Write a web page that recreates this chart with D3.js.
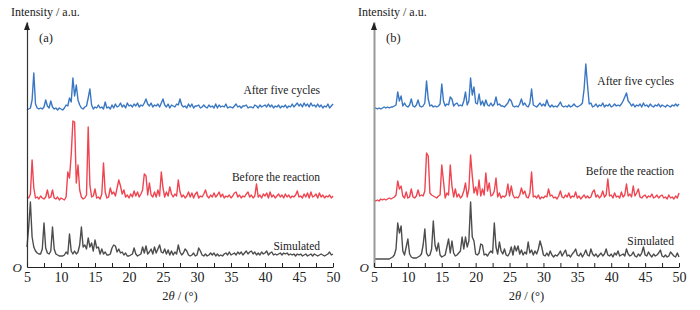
<!DOCTYPE html>
<html>
<head>
<meta charset="utf-8">
<title>XRD patterns</title>
<style>
  body { margin: 0; background: #fff; }
  svg text { font-family: "Liberation Serif", "Times New Roman", "DejaVu Serif", serif; fill: #222; }
  .x-axis path, .x-axis line { stroke: #222; }
  .x-axis text { font-size: 14px; fill: #222; }
</style>
</head>
<body>
<div class="xrd"></div>
<script src="https://d3js.org/d3.v7.min.js"></script>
<script>
var w = 700, h = 310;
var serif = "'Liberation Serif', 'Times New Roman', 'DejaVu Serif', serif";

// 2theta grid of the traces: 5 .. 50 in steps of 0.25
var thetaStart = 5, thetaStep = 0.25;
var tickVals = [5, 7.5, 10, 12.5, 15, 17.5, 20, 22.5, 25, 27.5, 30, 32.5, 35, 37.5, 40, 42.5, 45, 47.5, 50];
var tickLabels = [5, 10, 15, 20, 25, 30, 35, 40, 45, 50];
var seriesNames = ["Simulated", "Before the reaction", "After five cycles"];
var panelNames = ["(a)", "(b)"];

// stacking offsets (intensity units) of each trace
var offsetsA = [10, 67, 157];
var offsetsB = [8, 66, 158];

// panel (a)
var simA = [
	10,30,55,20, 10,6,4,3,   3,8,34,9, 4,3,6,30,
	8,3,2,1, 1,1,2,5,        3,23,6,3, 6,3,5,12,
	30,10,12,8, 19,10,14,6,  17,9,10,3, 8,3,5,2,
	2,3,9,12, 11,5,8,4,      5,2,4,1, 1,2,3,9,
	3,1,2,3, 10,4,11,3,      5,8,3,10, 4,8,12,5,
	4,8,3,7, 2,6,2,5,        3,12,5,2, 4,8,6,2,
	1,2,4,1, 2,9,6,2,        1,3,1,2, 4,2,4,1,
	3,1,2,1, 3,4,2,5,        2,3,4,2, 5,3,5,2,
	4,6,3,5, 6,3,5,2,        4,2,5,3, 4,6,2,4,
	5,2,3,2, 3,4,2,4,        3,4,2,3, 2,3,1,3,
	2,3,1,2, 3,1,2,3,        1,3,2,1, 2,3,2,1,
	2,3,5,2, 3
];
var beforeA = [
	3,2,6,40, 12,2,3,1,      4,2,1,3, 10,2,3,10,
	2,1,3,0, 2,1,0,3,        28,22,45,79, 78,17,35,10,
	3,1,2,5, 73,15,3,4,      11,2,3,1, 6,37,8,2,
	3,12,6,8, 4,12,20,14,    6,10,3,5, 2,6,3,9,
	4,8,3,6, 10,26,24,5,     17,5,3,8, 3,10,4,28,
	12,3,8,4, 13,6,3,6,      4,20,8,3, 5,2,4,8,
	3,7,2,6, 8,2,4,3,        6,10,4,2, 5,3,7,3,
	5,8,3,6, 2,4,3,5,        2,4,7,8, 3,5,2,4,
	3,6,8,3, 5,2,4,16,       3,5,2,6, 4,7,2,8,
	3,5,2,4, 6,3,5,2,        6,3,5,2, 4,3,5,9,
	3,4,2,6, 3,7,2,8,        3,4,6,2, 7,3,5,2,
	4,3,5,2, 4
];
var afterA = [
	0,1,2,10, 37,6,2,1,      2,1,3,10, 4,2,9,3,
	1,2,0,2, 1,0,2,5,        4,12,8,32, 14,25,10,5,
	2,1,3,4, 12,21,5,1,      3,2,5,2, 3,1,8,2,
	3,1,5,2, 6,3,4,7,        3,5,2,7, 4,5,3,6,
	4,7,3,5, 4,7,11,6,       4,7,3,5, 4,6,3,7,
	11,5,3,6, 2,5,4,3,       6,5,11,5, 3,4,2,6,
	3,6,2,4, 4,5,2,3,        5,3,2,5, 3,4,2,6,
	2,5,3,4, 3,6,2,3,        3,2,4,6, 3,4,2,4,
	4,5,2,3, 3,2,5,4,        2,5,3,4, 5,3,6,3,
	5,2,4,3, 5,2,4,3,        5,2,4,3, 6,3,5,7,
	4,6,3,7, 4,6,3,7,        4,5,3,6, 3,5,2,4,
	3,6,2,4, 6
];

// panel (b)
var simB = [
	0,0,0,0, 0,0,0,0,        0,0,1,2, 4,10,36,26,
	33,8,4,12, 20,5,2,1,     1,1,2,3, 5,14,30,6,
	3,4,10,38, 14,8,16,4,    2,3,4,12, 20,6,18,6,
	3,4,6,8, 22,10,22,12,    18,57,22,18, 5,4,6,15,
	14,4,5,3, 6,8,6,36,      12,5,17,8, 5,10,4,3,
	6,12,4,13, 8,13,5,9,     4,7,5,17, 6,9,4,8,
	5,10,18,12, 4,3,6,3,     8,4,2,4, 3,5,8,3,
	6,9,3,4, 2,5,7,10,       4,3,6,2, 5,9,4,3,
	10,5,3,5, 2,4,6,3,       5,10,4,3, 5,2,6,4,
	8,3,4,5, 3,10,5,3,       4,7,3,2, 5,3,6,12,
	4,3,7,4, 2,5,3,4,        6,9,3,2, 4,2,3,7,
	5,3,2,6, 2
];
var beforeB = [
	1,0,1,0, 2,1,2,1,        2,3,2,3, 4,6,20,12,
	15,5,3,9, 3,4,12,4,      3,5,11,5, 6,5,10,48,
	45,8,6,5, 4,3,5,6,       36,20,3,8, 6,36,15,4,
	12,4,7,3, 5,10,18,4,     12,46,25,8, 14,6,21,5,
	12,6,28,10, 18,5,6,10,   23,4,8,3, 5,4,6,17,
	5,15,6,3, 4,3,6,13,      7,10,4,3, 8,29,4,5,
	3,6,2,4, 3,5,4,12,       5,6,3,4, 2,5,10,4,
	3,6,4,8, 3,5,4,9,        3,5,2,4, 6,3,5,3,
	4,9,11,4, 6,3,5,10,      4,6,22,5, 6,3,8,4,
	5,3,9,4, 6,17,5,7,       4,15,5,8, 12,4,3,5,
	6,3,5,4, 7,3,4,6,        3,5,6,3, 4,2,6,3,
	4,2,5,3, 8
];
var afterB = [
	0,1,0,1, 0,1,2,1,        2,1,2,2, 3,4,17,8,
	13,3,6,3, 2,4,10,3,      2,4,9,3, 2,3,6,28,
	10,3,4,2, 3,2,3,5,       25,8,3,5, 4,12,10,3,
	5,6,3,4, 3,8,17,4,       8,31,14,22, 6,5,15,4,
	8,3,9,4, 3,6,3,5,        12,4,5,3, 3,2,4,6,
	10,8,3,2, 3,2,5,10,      4,6,3,2, 6,20,4,3,
	2,4,6,3, 5,3,9,4,        2,4,2,3, 2,4,7,3,
	2,3,2,4, 2,3,5,3,        2,3,4,6, 20,45,24,5,
	6,2,3,5, 2,4,3,6,        2,4,3,5, 2,3,5,3,
	4,3,5,8, 12,16,8,6,      3,5,2,4, 3,5,2,6,
	3,4,2,5, 3,2,4,3,        5,2,4,3, 2,4,3,2,
	4,3,5,3, 5
];

// where the series names sit: [2theta of right end, intensity of baseline]
var labelPosA = [[48.1, 17], [48.1, 86], [48.1, 173]];
var labelPosB = [[49.26, 22], [49.26, 92], [49.26, 182]];

var colors = ["#4d4d4d", "#ef4550", "#3a77c3"];

var SVG = d3.select("div.xrd").append("svg")
	.attr("width", w)
	.attr("height", h)
	.attr("font-family", serif);

var y = d3.scaleLinear()
	.domain([0, 245])
	.range([267, 22]);

function toPoints(vals){
	return vals.map(function(v, i){ return [thetaStart + i * thetaStep, v]; });
}

function renderPanel(opts){
	var x = d3.scaleLinear()
		.domain([5, 50])
		.range(opts.range);
	var g = SVG.append("g");

	// traces
	var line = d3.line()
		.x(function(d){ return x(d[0]); })
		.y(function(d){ return y(d[1]); });

	opts.series.forEach(function(vals, k){
		var pts = toPoints(vals).map(function(p){ return [p[0], p[1] + opts.offsets[k]]; });
		g.append("path")
			.datum(pts)
			.attr("fill", "none")
			.attr("stroke", colors[k])
			.attr("stroke-width", 1.4)
			.attr("stroke-linejoin", "round")
			.attr("d", line);

		g.append("text")
			.attr("x", x(opts.labels[k][0]))
			.attr("y", y(opts.labels[k][1]))
			.attr("text-anchor", "end")
			.attr("font-family", serif)
			.style("font-size", "11.5px")
			.text(seriesNames[k]);
	});

	// y axis with arrow
	var yAxis = d3.axisLeft(y).tickValues([]).tickSizeOuter(0);
	var ya = g.append("g")
		.attr("transform", "translate(" + opts.range[0] + ",0)")
		.call(yAxis);
	ya.select("path.domain")
		.attr("stroke", opts.yColor)
		.attr("stroke-width", opts.yWidth);
	var x0 = opts.range[0], yt = y(245);
	g.append("path")
		.attr("d", "M" + (x0 - 3) + "," + (yt + 8) + "L" + x0 + "," + yt + "L" + (x0 + 3) + "," + (yt + 8) + "Z")
		.attr("fill", "#222");

	// x axis, ticks pointing inward
	var xAxis = d3.axisBottom(x)
		.tickValues(tickVals)
		.tickSizeInner(-4)
		.tickSizeOuter(0)
		.tickPadding(5)
		.tickFormat(function(d){ return tickLabels.indexOf(d) >= 0 ? d : ""; });
	g.append("g")
		.attr("class", "x-axis")
		.attr("transform", "translate(0," + y(0) + ")")
		.call(xAxis)
		.attr("font-family", serif);

	// origin, titles
	g.append("text")
		.attr("x", x0 - 5).attr("y", y(0) + 5)
		.attr("text-anchor", "end")
		.attr("font-family", serif)
		.style("font-size", "13px").style("font-style", "italic")
		.text("O");

	g.append("text")
		.attr("x", x0 - 16).attr("y", 16)
		.attr("font-family", serif)
		.style("font-size", "12px")
		.text("Intensity / a.u.");

	g.append("text")
		.attr("x", x0 + 12).attr("y", 42)
		.attr("font-family", serif)
		.style("font-size", "12.5px")
		.text(opts.name);

	var xt = g.append("text")
		.attr("x", (opts.range[0] + opts.range[1]) / 2).attr("y", 300)
		.attr("text-anchor", "middle")
		.attr("font-family", serif)
		.style("font-size", "12.5px");
	xt.append("tspan").text("2");
	xt.append("tspan").style("font-style", "italic").text("θ");
	xt.append("tspan").text(" / (°)");
}

renderPanel({ range: [27, 333], series: [simA, beforeA, afterA], offsets: offsetsA,
	labels: labelPosA, name: panelNames[0], yColor: "#333", yWidth: 1.2 });
renderPanel({ range: [374, 679], series: [simB, beforeB, afterB], offsets: offsetsB,
	labels: labelPosB, name: panelNames[1], yColor: "#999", yWidth: 2 });
</script>
</body>
</html>
